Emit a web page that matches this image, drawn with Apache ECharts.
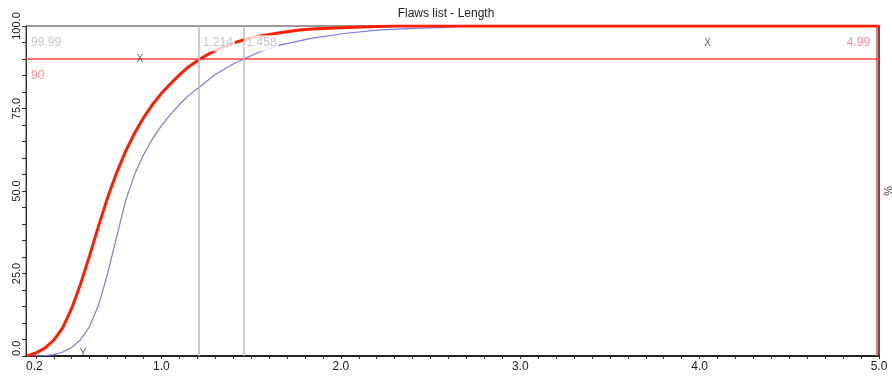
<!DOCTYPE html>
<html>
<head>
<meta charset="utf-8">
<script src="https://cdn.jsdelivr.net/npm/echarts@6/dist/echarts.min.js"></script>
<style>
  html, body { margin: 0; padding: 0; background: #fff; }
  #chart { width: 892px; height: 376px; }
</style>
</head>
<body>
<div id="chart"></div>
<script>
// curve data (length, cumulative %)
const redLen  = [0.25, 0.30, 0.35, 0.40, 0.45, 0.50, 0.55, 0.60, 0.65, 0.70, 0.75, 0.80, 0.85, 0.90, 0.95, 1.00, 1.05, 1.10, 1.15, 1.214, 1.30, 1.40, 1.47, 1.55, 1.67, 1.77, 1.84, 2.00, 2.12, 2.30, 5.00];
const redPct  = [0, 0.9, 2.4, 4.8, 8.6, 14.5, 22, 30.5, 39.5, 48, 55.5, 62, 67.5, 72.2, 76.2, 79.6, 82.5, 85.2, 87.6, 90, 92.6, 94.8, 96, 97, 98, 98.8, 99.1, 99.5, 99.7, 100, 100];
const blueLen = [0.25, 0.35, 0.40, 0.45, 0.50, 0.55, 0.60, 0.65, 0.70, 0.75, 0.80, 0.85, 0.90, 0.95, 1.00, 1.05, 1.10, 1.15, 1.214, 1.30, 1.40, 1.458, 1.55, 1.66, 1.77, 1.84, 2.03, 2.22, 2.40, 2.59, 2.70, 5.00];
const bluePct = [0, 0.1, 0.4, 1.2, 2.6, 5, 9, 15.5, 25, 36, 47, 55, 61, 65.8, 69.8, 73.2, 76.2, 78.9, 81.6, 85.3, 88.5, 90, 92.2, 94.2, 95.5, 96.3, 97.8, 98.8, 99.3, 99.6, 100, 100];

// axes
const xMin = 0.245, xMax = 5.0;
const xTickValues = [0.245, 1, 2, 3, 4, 5];
const xTickLabels = ['0.2', '1.0', '2.0', '3.0', '4.0', '5.0'];
const yTickValues = [0, 25, 50, 75, 100];
const yTickLabels = ['0.0', '25.0', '50.0', '75.0', '100.0'];

// cursors and level
const cursorX = [1.214, 1.458];
const limitX = 4.99;
const levelY = 90;

// value labels
const noteText = ['99.99', '90', '1.214', '1.458', '4.99'];
const noteX    = [0.262, 0.262, 1.214, 1.458, 4.99];
const noteY    = [94.8, 84.8, 94.8, 94.8, 94.8];

// cursor markers
const markText = ['X', 'X', 'Y'];
const markX    = [0.88, 4.044, 0.563];
const markY    = [90, 94.8, 0.9];

const xMinorTicks = [];
for (let v = 3; v <= 50; v++) xMinorTicks.push(v / 10);
const yMinorTicks = [];
for (let v = 0; v <= 100; v += 5) yMinorTicks.push(v);

const FONT = 'Liberation Sans, Arial, sans-serif';
const GRAY = '#b8b8b8';
const LRED = '#ff7070';

let chart = echarts.init(document.getElementById('chart'));

const noteStyle = [
  {color: GRAY, position: 'right', distance: 0},
  {color: LRED, position: 'right', distance: 0},
  {color: GRAY, position: 'right', distance: 1},
  {color: GRAY, position: 'right', distance: 1},
  {color: LRED, position: 'left', distance: 5}
];

let option = {
  animation: false,
  title: {
    text: 'Flaws list - Length',
    left: 'center',
    top: 3,
    textStyle: {fontFamily: FONT, fontSize: 12, fontWeight: 'normal', color: '#222'}
  },
  grid: {
    left: 26, right: 13, top: 26, bottom: 20,
    outerBoundsMode: 'none', containLabel: false,
    show: true, borderColor: '#333', borderWidth: 1
  },
  xAxis: [{
    type: 'value', min: xMin, max: xMax,
    axisLine: {lineStyle: {color: '#333', width: 1.5}},
    axisTick: {customValues: xMinorTicks, length: 3, lineStyle: {color: '#333'}},
    axisLabel: {
      customValues: xTickValues,
      formatter: v => xTickLabels[xTickValues.indexOf(v)],
      fontFamily: FONT, fontSize: 12, color: '#1a1a1a', margin: 5,
      alignMinLabel: 'left'
    },
    splitLine: {show: false}
  }, {
    type: 'value', min: xMin, max: xMax, position: 'top',
    axisLine: {lineStyle: {color: '#222', width: 2}},
    axisTick: {show: false}, axisLabel: {show: false}, splitLine: {show: false}
  }],
  yAxis: [{
    type: 'value', min: 0, max: 100,
    axisLine: {lineStyle: {color: '#333', width: 1}},
    axisTick: {customValues: yMinorTicks, length: 4, lineStyle: {color: '#333'}},
    axisLabel: {
      customValues: yTickValues,
      formatter: v => yTickLabels[yTickValues.indexOf(v)],
      rotate: 90, fontFamily: FONT, fontSize: 11, color: '#1a1a1a', margin: 4,
      alignMinLabel: 'left'
    },
    splitLine: {show: false}
  }, {
    type: 'value', min: 0, max: 100, position: 'right',
    name: '%', nameLocation: 'middle', nameGap: 3, nameRotate: -90,
    nameTextStyle: {fontFamily: FONT, fontSize: 11, color: '#333'},
    axisLine: {show: true, lineStyle: {color: '#555', width: 2}},
    axisTick: {show: false}, axisLabel: {show: false}, splitLine: {show: false}
  }],
  series: [{
    name: 'limits',
    type: 'line',
    data: [],
    z: 1,
    markLine: {
      silent: true,
      symbol: ['none', 'none'],
      label: {show: false},
      emphasis: {disabled: true},
      lineStyle: {color: '#ff4040', width: 1.5, type: 'solid'},
      data: [{xAxis: limitX}, {yAxis: levelY}]
    }
  }, {
    name: 'blue',
    type: 'line',
    data: blueLen.map((x, i) => [x, bluePct[i]]),
    showSymbol: false,
    lineStyle: {color: '#7b7be0', width: 1.2},
    z: 2,
    markLine: {
      silent: true,
      symbol: ['none', 'none'],
      label: {show: false},
      emphasis: {disabled: true},
      lineStyle: {color: '#bdbdbd', width: 1.5, type: 'solid'},
      data: cursorX.map(v => ({xAxis: v}))
    }
  }, {
    name: 'red',
    type: 'line',
    data: redLen.map((x, i) => [x, redPct[i]]),
    showSymbol: false,
    lineStyle: {color: '#ff1e00', width: 3},
    z: 3
  }, {
    name: 'notes',
    type: 'scatter',
    symbolSize: 0,
    z: 10,
    data: noteText.map((t, i) => ({
      value: [noteX[i], noteY[i]],
      label: {
        show: true, formatter: t,
        position: noteStyle[i].position, distance: noteStyle[i].distance,
        color: noteStyle[i].color, fontFamily: FONT, fontSize: 12,
        backgroundColor: '#fff', padding: [2, 2]
      }
    }))
  }, {
    name: 'markers',
    type: 'scatter',
    symbolSize: 0,
    z: 11,
    data: markText.map((t, i) => ({
      value: [markX[i], markY[i]],
      label: {
        show: true, formatter: t, position: 'inside',
        color: '#333', fontFamily: FONT, fontSize: 10
      }
    }))
  }]
};

chart.setOption(option);
</script>
</body>
</html>
